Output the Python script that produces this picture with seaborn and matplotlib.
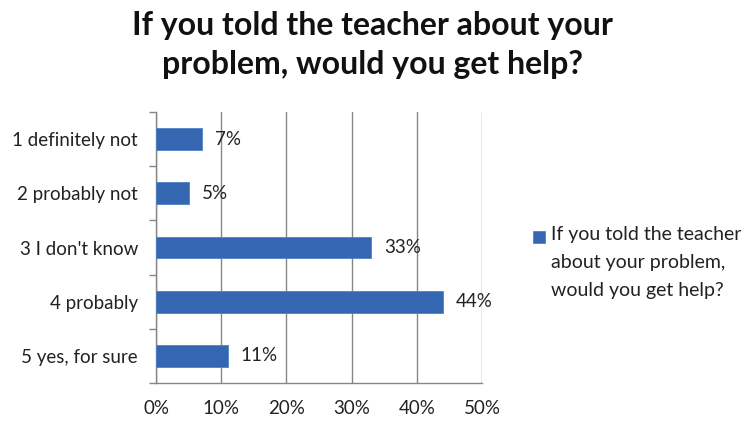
import matplotlib
matplotlib.use("Agg")
import matplotlib.pyplot as plt
from matplotlib.ticker import MultipleLocator, FixedLocator
from matplotlib.legend_handler import HandlerPatch
from matplotlib.patches import Rectangle
import seaborn as sns
import pandas as pd

categories = ["1 definitely not", "2 probably not", "3 I don't know", "4 probably", "5 yes, for sure"]
values = [7, 5, 33, 44, 11]
series_name = "If you told the teacher\nabout your problem,\nwould you get help?"
title = "If you told the teacher about your\nproblem, would you get help?"
x_ticks = [0, 10, 20, 30, 40, 50]

df = pd.DataFrame({"category": categories, "value": values, "series": series_name})

sns.set_theme(style="white")
plt.rcParams["font.family"] = ["Lato", "DejaVu Sans"]

bar_color = "#3566B2"
line_color = "#868686"
text_color = "#222222"
label_size = 13.5
legend_size = 14


class TopLineSquare(HandlerPatch):
    """Legend key drawn beside the first line of a multi-line label."""

    def __init__(self, lift, **kw):
        super().__init__(**kw)
        self.lift = lift

    def create_artists(self, legend, orig_handle, xdescent, ydescent,
                       width, height, fontsize, trans):
        p = Rectangle((-xdescent, -ydescent + self.lift), width, height)
        self.update_prop(p, orig_handle, legend)
        p.set_transform(trans)
        return [p]


fig = plt.figure(figsize=(7.45, 4.21), dpi=100)
ax = fig.add_axes([156 / 745, 1 - 383 / 421, 326 / 745, 271 / 421])

sns.barplot(data=df, x="value", y="category", hue="series", orient="h",
            palette=[bar_color], saturation=1, width=0.4, ax=ax, legend=True,
            edgecolor="#4f82c8", linewidth=0.6, zorder=3)

ax.set_xlim(0, 50)
ax.set_ylim(len(categories) - 0.5, -0.5)
ax.xaxis.set_major_locator(FixedLocator(x_ticks))
ax.set_xticklabels([f"{t}%" for t in x_ticks])
ax.grid(axis="x", color=line_color, linewidth=1.0, zorder=0)
ax.grid(axis="y", visible=False)
ax.set_axisbelow(True)

for s in ["top", "right"]:
    ax.spines[s].set_visible(False)
for s in ["left", "bottom"]:
    ax.spines[s].set_color(line_color)
    ax.spines[s].set_linewidth(1.0)

ax.tick_params(axis="x", which="major", direction="out", length=5, width=1,
               color=line_color, labelsize=label_size, labelcolor=text_color, pad=7)
ax.tick_params(axis="y", which="major", length=0, labelsize=label_size,
               labelcolor=text_color, pad=13)
ax.yaxis.set_minor_locator(MultipleLocator(1, offset=0.5))
ax.tick_params(axis="y", which="minor", direction="out", length=5, width=1,
               color=line_color, left=True)
ax.set_xlabel("")
ax.set_ylabel("")

for i, v in enumerate(values):
    ax.annotate(f"{v}%", xy=(v, i), xytext=(9.5, 0), textcoords="offset points",
                va="center", ha="left", fontsize=label_size, color=text_color)

fig.suptitle(title, fontsize=23, fontweight="bold", color="#111111",
             x=0.5, y=0.975, linespacing=1.45)

leg = ax.get_legend()
handles = leg.legend_handles
leg.remove()
legend = fig.legend(handles, [series_name], loc="upper left",
                    bbox_to_anchor=(533 / 745, 1 - 226 / 421), frameon=False,
                    fontsize=legend_size, handlelength=0.62, handleheight=0.62,
                    handletextpad=0.31, borderpad=0, borderaxespad=0,
                    handler_map={handles[0]: TopLineSquare(lift=18.7)})
for t in legend.get_texts():
    t.set_linespacing(1.8)
    t.set_color(text_color)

fig.savefig("out.png", dpi=100, facecolor="white")
